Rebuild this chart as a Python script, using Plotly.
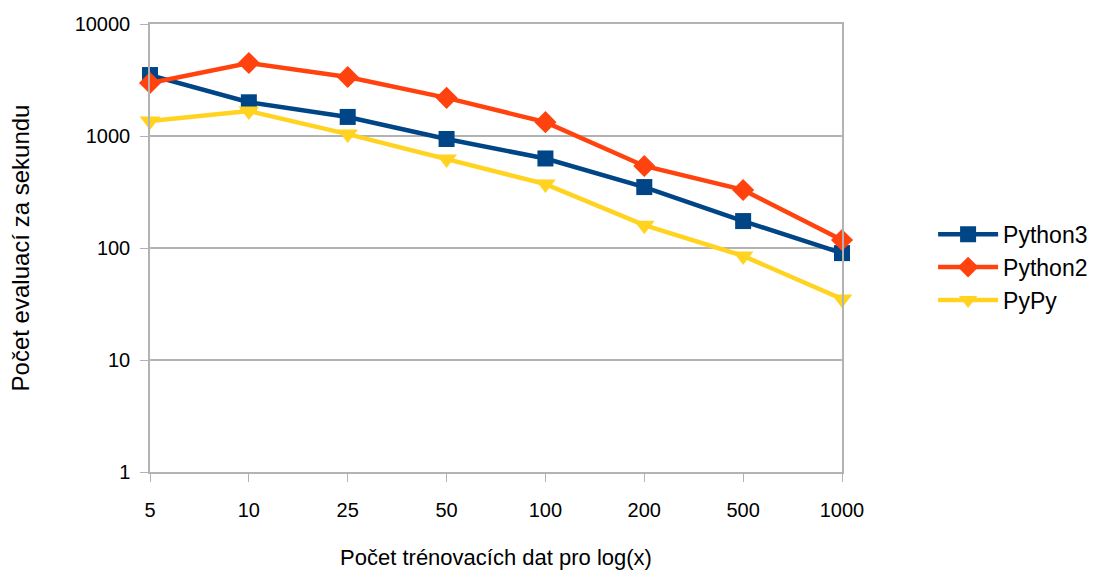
import plotly.graph_objects as go

categories = ["5", "10", "25", "50", "100", "200", "500", "1000"]
python3 = [3500, 2000, 1480, 940, 630, 350, 174, 90]
python2 = [2970, 4490, 3360, 2190, 1330, 540, 330, 118]
pypy = [1360, 1670, 1040, 623, 372, 160, 85, 35]

y_ticks = [1, 10, 100, 1000, 10000]

series = [
    ("Python3", python3, "#004586", "square", 16),
    ("Python2", python2, "#ff420e", "diamond", 17),
    ("PyPy", pypy, "#ffd320", "triangle-down", 18),
]

fig = go.Figure()
for name, vals, color, sym, size in series:
    fig.add_trace(go.Scatter(
        x=categories, y=vals, name=name, mode="lines+markers",
        line=dict(color=color, width=4.5),
        marker=dict(symbol=sym, size=size, color=color),
        cliponaxis=False,
    ))

font = "Liberation Sans, Arial, sans-serif"
fig.update_layout(
    width=1104, height=571,
    margin=dict(l=150, r=261, t=24, b=99),
    paper_bgcolor="white", plot_bgcolor="white",
    font=dict(family=font, size=20, color="#000000"),
    showlegend=True,
    legend=dict(x=1.13, y=0.457, xanchor="left", yanchor="middle",
                font=dict(size=23), tracegroupgap=0, itemwidth=60),
    xaxis=dict(
        type="category", range=[0, 7], automargin=False,
        showgrid=False, showline=True, linecolor="#b3b3b3", linewidth=1.5,
        mirror=True, ticks="outside", ticklen=8, tickcolor="#b3b3b3",
        ticklabelstandoff=11, zeroline=False, tickfont=dict(size=20),
        title=dict(text="Počet trénovacích dat pro log(x)", standoff=30,
                   font=dict(size=22)),
    ),
    yaxis=dict(
        type="log", range=[0, 4], tickvals=y_ticks, automargin=False,
        ticktext=[str(v) for v in y_ticks],
        showgrid=True, gridcolor="#b3b3b3", gridwidth=1.5,
        showline=True, linecolor="#b3b3b3", linewidth=1.5, mirror=True,
        ticks="outside", ticklen=8, tickcolor="#b3b3b3",
        ticklabelstandoff=6, zeroline=False, tickfont=dict(size=20),
        title=dict(text="Počet evaluací za sekundu", standoff=38,
                   font=dict(size=24)),
    ),
)

fig.write_html("out.html")
